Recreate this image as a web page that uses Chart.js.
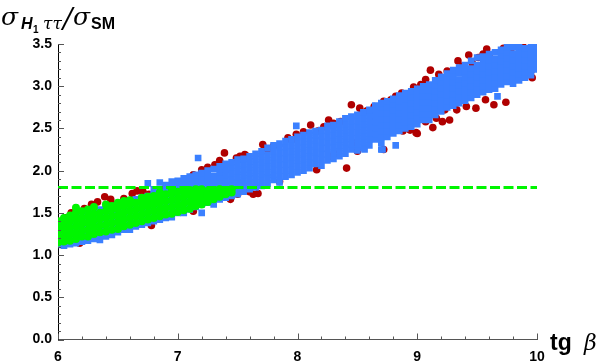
<!DOCTYPE html>
<html>
<head>
<meta charset="utf-8">
<style>html,body{margin:0;padding:0;background:#fff}canvas{display:block}</style>
<script src="https://cdn.jsdelivr.net/npm/chart.js@4"></script>
</head>
<body>
<canvas id="chart" width="602" height="364"></canvas>
<script>
// tick labels
const xTicks = [6, 7, 8, 9, 10];
const yTicks = [0, 0.5, 1, 1.5, 2, 2.5, 3, 3.5];
const limitY = 1.8;
const limitX = [6, 10];

// red circles, mostly what sticks out of the band
const redX = [6.02,6.06,6.11,6.15,6.18,6.22,6.28,6.33,6.39,6.44,6.48,6.55,6.62,6.66,6.71,6.76,6.78,6.82,6.88,6.96,7.02,7.08,7.13,7.13,7.2,7.25,7.31,7.35,7.39,7.44,7.49,7.52,7.58,7.56,7.6,7.63,7.67,7.71,7.75,7.8,7.85,7.92,7.95,7.99,8.05,8.11,8.16,8.17,8.22,8.26,8.3,8.36,8.41,8.45,8.5,8.52,8.58,8.64,8.72,8.72,8.78,8.82,8.87,8.87,8.88,8.94,8.97,8.99,9.0,9.03,9.07,9.07,9.11,9.13,9.16,9.18,9.21,9.23,9.25,9.27,9.33,9.34,9.38,9.43,9.46,9.49,9.51,9.55,9.57,9.58,9.6,9.64,9.72,9.74,9.78,9.88,9.95,9.96,7.44,7.5,8.28,8.34,8.46,9.41];
const redY = [1.40,1.44,1.5,1.52,1.14,1.55,1.6,1.63,1.69,1.66,1.6,1.67,1.73,1.76,1.75,1.72,1.35,1.75,1.78,1.81,1.84,1.88,1.95,1.52,2.01,2.04,2.07,2.12,2.21,1.66,2.15,2.17,2.17,2.19,1.75,1.72,1.73,2.31,2.25,2.29,1.87,2.39,2.36,2.43,2.46,2.54,2.01,2.47,2.52,2.6,2.56,2.58,2.03,2.78,2.23,2.74,2.71,2.76,2.82,2.25,2.84,2.88,2.92,2.48,2.47,2.48,2.99,2.45,2.44,3.02,3.08,2.58,3.19,2.51,2.62,3.14,2.58,2.72,3.18,2.6,2.72,3.3,3.24,3.37,3.27,2.74,3.34,3.38,2.84,3.44,3.37,2.78,3.45,2.81,3.42,3.48,3.18,3.1,1.68,1.72,2.17,2.2,2.33,2.76];

// blue squares, one list of y values per x column
const blueX = [6,6.05,6.1,6.15,6.2,6.25,6.3,6.35,6.4,6.45,6.5,6.55,6.6,6.65,6.7,6.75,6.8,6.85,6.9,6.95,7,7.05,7.1,7.15,7.2,7.25,7.3,7.35,7.4,7.45,7.5,7.55,7.6,7.65,7.7,7.75,7.8,7.85,7.9,7.95,8,8.05,8.1,8.15,8.2,8.25,8.3,8.35,8.4,8.45,8.5,8.55,8.6,8.65,8.7,8.75,8.8,8.85,8.9,8.95,9,9.05,9.1,9.15,9.2,9.25,9.3,9.35,9.4,9.45,9.5,9.55,9.6,9.65,9.7,9.75,9.8,9.85,9.9,9.95,10];
const blueY = [
[1.12,1.18,1.24,1.3,1.36,1.4],[1.11,1.17,1.24,1.3,1.37,1.42],[1.13,1.19,1.25,1.31,1.38,1.44],[1.14,1.2,1.27,1.33,1.4,1.46],[1.16,1.22,1.29,1.35,1.42,1.47],
[1.17,1.24,1.3,1.37,1.44,1.5],[1.19,1.25,1.32,1.39,1.46,1.52],[1.18,1.25,1.33,1.4,1.47,1.54],[1.22,1.29,1.36,1.43,1.5,1.55],[1.24,1.31,1.38,1.45,1.52,1.58],
[1.27,1.33,1.4,1.47,1.54,1.6],[1.3,1.36,1.43,1.5,1.56,1.62],[1.3,1.37,1.44,1.51,1.58,1.64],[1.34,1.41,1.48,1.54,1.6,1.66],[1.36,1.43,1.5,1.56,1.62,1.68],
[1.38,1.44,1.51,1.58,1.64,1.7,1.85],[1.4,1.46,1.53,1.6,1.66,1.72,1.78],[1.42,1.49,1.55,1.62,1.68,1.74,1.86],[1.44,1.5,1.57,1.64,1.7,1.76,1.83],[1.45,1.53,1.6,1.67,1.73,1.8,1.87],
[1.5,1.56,1.62,1.69,1.75,1.82,1.88],[1.5,1.57,1.64,1.71,1.77,1.84,1.91],[1.54,1.6,1.67,1.73,1.8,1.87,1.93],[1.57,1.63,1.7,1.76,1.83,1.89,1.95],[1.6,1.66,1.73,1.79,1.86,1.92,1.97],
[1.62,1.68,1.75,1.81,1.88,1.94,2],[1.6,1.67,1.74,1.8,1.87,1.94,2.02],[1.66,1.72,1.79,1.85,1.92,1.98,2.05],[1.68,1.74,1.81,1.88,1.95,2.01,2.08],[1.7,1.76,1.83,1.9,1.97,2.04,2.1],
[1.72,1.79,1.86,1.92,1.99,2.06,2.13],[1.75,1.82,1.88,1.95,2.01,2.08,2.14],[1.78,1.84,1.91,1.97,2.04,2.11,2.17],[1.8,1.86,1.93,2,2.07,2.14,2.2],[1.82,1.89,1.96,2.03,2.1,2.17,2.23],
[1.85,1.92,1.98,2.05,2.12,2.19,2.27],[1.89,1.95,2.02,2.09,2.16,2.23,2.3],[1.86,1.93,2,2.07,2.14,2.21,2.28,2.32],[1.93,2,2.07,2.14,2.21,2.28,2.35],[1.95,2.02,2.09,2.16,2.23,2.3,2.37],
[1.98,2.05,2.12,2.19,2.26,2.33,2.4],[2,2.07,2.14,2.21,2.28,2.35,2.42],[2.03,2.1,2.17,2.24,2.31,2.38,2.45],[2.08,2.15,2.22,2.29,2.36,2.42,2.47],[2.06,2.13,2.2,2.27,2.34,2.41,2.48],
[2.12,2.19,2.26,2.33,2.4,2.47,2.53],[2.14,2.21,2.28,2.35,2.42,2.49,2.54],[2.17,2.23,2.3,2.37,2.44,2.51,2.58],[2.2,2.27,2.34,2.41,2.48,2.55,2.62],[2.25,2.31,2.38,2.45,2.52,2.59,2.64],
[2.24,2.31,2.38,2.45,2.52,2.59,2.66],[2.27,2.34,2.41,2.48,2.55,2.62,2.69],[2.3,2.37,2.44,2.51,2.58,2.65,2.72],[2.37,2.43,2.5,2.57,2.64,2.71,2.77],[2.25,2.33,2.4,2.47,2.54,2.61,2.68,2.75,2.8],
[2.4,2.47,2.54,2.61,2.68,2.75,2.82],[2.44,2.51,2.58,2.65,2.72,2.79,2.85],[2.47,2.54,2.61,2.68,2.75,2.82,2.89],[2.5,2.57,2.64,2.71,2.78,2.85,2.92],[2.52,2.59,2.66,2.73,2.8,2.87,2.94],
[2.55,2.62,2.69,2.76,2.83,2.9,2.97],[2.6,2.67,2.74,2.81,2.88,2.95,3],[2.6,2.67,2.74,2.81,2.88,2.95,3.02],[2.66,2.73,2.8,2.87,2.94,3.01,3.07],[2.7,2.77,2.84,2.91,2.98,3.05,3.11],
[2.75,2.82,2.89,2.96,3.03,3.1,3.15],[2.77,2.84,2.91,2.98,3.05,3.12,3.19],[2.8,2.87,2.94,3.01,3.08,3.15,3.22],[2.83,2.9,2.97,3.04,3.11,3.18,3.25],[2.86,2.93,3,3.07,3.14,3.21,3.3],
[2.9,2.97,3.04,3.11,3.18,3.25,3.34],[2.93,3,3.07,3.14,3.21,3.28,3.35],[2.96,3.03,3.1,3.17,3.24,3.31,3.38],[2.97,3.04,3.11,3.18,3.25,3.32,3.4],[3.02,3.09,3.16,3.23,3.3,3.37,3.43],
[3.05,3.12,3.19,3.26,3.33,3.4,3.46],[3.03,3.1,3.17,3.24,3.31,3.38,3.46],[3.07,3.14,3.21,3.28,3.35,3.42,3.47],[3.1,3.17,3.24,3.31,3.38,3.45],[3.13,3.2,3.27,3.34,3.41,3.47],
[3.2,3.26,3.33,3.4,3.47]
];
// loose blue squares away from the band
const blueOutX = [7.2,7.17,7.99,8.56,8.71,8.82,9.67];
const blueOutY = [1.5,2.15,2.53,2.25,2.25,2.3,2.88];

// green circles, same column layout as the blue ones
const greenX = [6,6.05,6.1,6.15,6.2,6.25,6.3,6.35,6.4,6.45,6.5,6.55,6.6,6.65,6.7,6.75,6.8,6.85,6.9,6.95,7,7.05,7.1,7.15,7.2,7.25,7.3,7.35,7.4,7.45];
const greenY = [
[1.15,1.21,1.28,1.34,1.4],[1.16,1.22,1.3,1.37,1.44],[1.17,1.25,1.32,1.4,1.47],[1.19,1.26,1.34,1.42,1.5,1.56],[1.22,1.29,1.37,1.44,1.52],
[1.22,1.3,1.38,1.46,1.54],[1.25,1.33,1.41,1.49,1.57],[1.27,1.35,1.43,1.5],[1.28,1.36,1.44,1.52,1.6],[1.3,1.38,1.46,1.54,1.58],
[1.31,1.39,1.47,1.55,1.62],[1.34,1.42,1.5,1.58,1.64],[1.36,1.44,1.52,1.6,1.65],[1.38,1.46,1.54,1.62],[1.4,1.48,1.56,1.63,1.68],
[1.42,1.5,1.58,1.65,1.69],[1.44,1.52,1.6,1.67,1.7],[1.46,1.54,1.62,1.68,1.74],[1.48,1.56,1.64,1.72],[1.49,1.57,1.65,1.73,1.77],
[1.51,1.59,1.67,1.75],[1.53,1.61,1.69,1.76],[1.55,1.63,1.71,1.77],[1.58,1.65,1.72,1.78],[1.6,1.67,1.74,1.78],
[1.63,1.7,1.76],[1.66,1.72,1.77],[1.69,1.74,1.78],[1.72,1.77],[1.74,1.78]
];

// minor tick positions on both axes
const xMinor = [6.2,6.4,6.6,6.8,7.2,7.4,7.6,7.8,8.2,8.4,8.6,8.8,9.2,9.4,9.6,9.8];
const yMinor = [0.1,0.2,0.3,0.4,0.6,0.7,0.8,0.9,1.1,1.2,1.3,1.4,1.6,1.7,1.8,1.9,2.1,2.2,2.3,2.4,2.6,2.7,2.8,2.9,3.1,3.2,3.3,3.4];

const RED = '#b00000', BLUE = '#3b80ff', GREEN = '#00f500', AXIS = '#555';
const SANS = '"Liberation Sans", Arial, sans-serif';
const SERIF = '"DejaVu Serif", "Liberation Serif", serif';

// turn the column lists into {x,y} points
const columns = (xs, ys) => xs.flatMap((x, i) => ys[i].map(y => ({ x, y })));
const zipped = (xs, ys) => xs.map((x, i) => ({ x, y: ys[i] }));

// ticks point into the plot and the labels are plain, so draw them here
const insideTicks = {
  id: 'insideTicks',
  afterDatasetsDraw(chart) {
    const { ctx, scales: { x, y } } = chart;
    const mark = (x1, y1, x2, y2) => { ctx.beginPath(); ctx.moveTo(x1, y1); ctx.lineTo(x2, y2); ctx.stroke(); };
    ctx.save();
    ctx.strokeStyle = AXIS;
    ctx.lineWidth = 1;
    xTicks.forEach(v => { const p = Math.round(x.getPixelForValue(v)) + 0.5; mark(p, y.bottom, p, y.bottom - 6); });
    xMinor.forEach(v => { const p = Math.round(x.getPixelForValue(v)) + 0.5; mark(p, y.bottom, p, y.bottom - 3); });
    yTicks.forEach(v => { const p = Math.round(y.getPixelForValue(v)) + 0.5; mark(x.left, p, x.left + 6, p); });
    yMinor.forEach(v => { const p = Math.round(y.getPixelForValue(v)) + 0.5; mark(x.left, p, x.left + 3, p); });
    ctx.restore();
  }
};

// the two axis titles mix fonts, one fillText per piece
const axisTitles = {
  id: 'axisTitles',
  afterDraw(chart) {
    const { ctx } = chart;
    const put = (s, x, y, font) => { ctx.font = font; ctx.fillText(s, x, y); };
    ctx.save();
    ctx.fillStyle = '#000';
    ctx.textAlign = 'left';
    ctx.textBaseline = 'alphabetic';
    put('σ', 1, 25, `italic 25px ${SERIF}`);
    put('H', 21, 29, `italic bold 16px ${SANS}`);
    put('1', 33, 33, `bold 10px ${SANS}`);
    put('ττ', 43, 29, `italic 17px ${SERIF}`);
    put('/', 63, 28, `italic 28px ${SERIF}`);
    put('σ', 73, 25, `italic 25px ${SERIF}`);
    put('SM', 91, 29, `bold 16px ${SANS}`);
    put('tg', 550, 350, `bold 23px ${SANS}`);
    put('β', 584, 350, `italic 22px ${SERIF}`);
    ctx.restore();
  }
};

new Chart(document.getElementById('chart'), {
  type: 'scatter',
  data: {
    datasets: [
      { data: [{ x: limitX[0], y: limitY }, { x: limitX[1], y: limitY }], showLine: true, pointRadius: 0, borderColor: GREEN, borderWidth: 3, borderDash: [10, 3.5], order: 1 },
      { data: columns(greenX, greenY), pointStyle: 'circle', pointRadius: 4, backgroundColor: GREEN, borderWidth: 0, clip: 0, order: 2 },
      { data: columns(blueX, blueY).concat(zipped(blueOutX, blueOutY)), pointStyle: 'rect', pointRadius: 4.7, backgroundColor: BLUE, borderWidth: 0, clip: 0, order: 3 },
      { data: zipped(redX, redY), pointStyle: 'circle', pointRadius: 3.8, backgroundColor: RED, borderWidth: 0, clip: 0, order: 4 }
    ]
  },
  options: {
    responsive: false,
    animation: false,
    layout: { padding: { top: 44, right: 65, left: 0, bottom: 0 } },
    plugins: { legend: { display: false }, tooltip: { enabled: false } },
    scales: {
      x: {
        type: 'linear', min: 6, max: 10,
        afterFit: s => { s.height = 24.5; },
        grid: { drawOnChartArea: false, drawTicks: false },
        border: { color: AXIS, width: 1 },
        ticks: { stepSize: 1, padding: 9, maxRotation: 0, color: '#000', font: { family: SANS, size: 14, weight: 'bold' }, callback: v => String(v) }
      },
      y: {
        type: 'linear', min: 0, max: 3.5,
        afterFit: s => { s.width = 58; },
        grid: { drawOnChartArea: false, drawTicks: false },
        border: { color: '#000', width: 1 },
        ticks: { stepSize: 0.5, padding: 6, color: '#000', font: { family: SANS, size: 14, weight: 'bold' }, callback: v => v.toFixed(1) }
      }
    }
  },
  plugins: [insideTicks, axisTitles]
});
</script>
</body>
</html>
